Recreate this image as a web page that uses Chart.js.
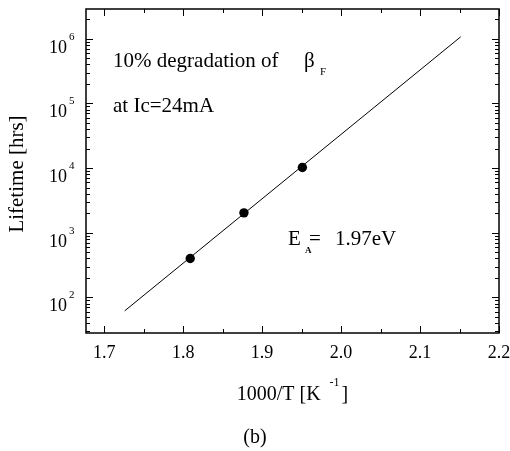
<!DOCTYPE html>
<html>
<head>
<meta charset="utf-8">
<script src="https://cdn.jsdelivr.net/npm/chart.js@4"></script>
<style>
  body { margin: 0; background: #fff; }
</style>
</head>
<body>
<canvas id="lifetime" width="510" height="451"></canvas>
<script>
// measured points, 1000/T vs lifetime (hrs)
const invT = [1.809, 1.877, 1.951];
const lifetime = [400, 2030, 10200];

// Arrhenius fit, end points of the drawn line
const fitT = [1.726, 2.1515];
const fitLife = [62, 1.07e6];

// axis ticks
const xLabels = [1.7, 1.8, 1.9, 2.0, 2.1, 2.2];
const xMinor = [1.75, 1.85, 1.95, 2.05, 2.15];
const yDecades = [2, 3, 4, 5, 6];

const serif = '"Liberation Serif", "Times New Roman", serif';

// ..................frame, ticks and texts....................
const framePlugin = {
    id: 'frame',
    afterDraw(chart) {
        const c = chart.ctx;
        const a = chart.chartArea;
        const xs = chart.scales.x;
        const ys = chart.scales.y;
        c.save();
        c.strokeStyle = '#000';
        c.fillStyle = '#000';

        c.lineWidth = 1.5;
        c.strokeRect(a.left, a.top, a.right - a.left, a.bottom - a.top);

        c.lineWidth = 1;
        c.beginPath();
        const xTick = (v, len) => {
            const px = Math.round(xs.getPixelForValue(v)) + 0.5;
            c.moveTo(px, a.bottom); c.lineTo(px, a.bottom - len);
            c.moveTo(px, a.top); c.lineTo(px, a.top + len);
        };
        const yTick = (v, len) => {
            const py = Math.round(ys.getPixelForValue(v)) + 0.5;
            if (py < a.top || py > a.bottom) return;
            c.moveTo(a.left, py); c.lineTo(a.left + len, py);
            c.moveTo(a.right, py); c.lineTo(a.right - len, py);
        };
        xLabels.forEach(v => xTick(v, 7));
        xMinor.forEach(v => xTick(v, 4));
        for (let d = 1; d <= 6; d++) {
            for (let i = 2; i <= 9; i++) yTick(i * Math.pow(10, d), 4);
        }
        yDecades.forEach(d => yTick(Math.pow(10, d), 7));
        c.stroke();

        // x tick labels
        c.font = '18px ' + serif;
        c.textAlign = 'center';
        c.textBaseline = 'alphabetic';
        xLabels.forEach(v => {
            c.fillText(v.toFixed(1), xs.getPixelForValue(v), a.bottom + 25);
        });

        // y tick labels 10^n
        yDecades.forEach(d => {
            const py = ys.getPixelForValue(Math.pow(10, d));
            c.font = '18px ' + serif;
            c.textAlign = 'right';
            c.fillText('10', a.left - 19, py + 14);
            c.font = '11px ' + serif;
            c.textAlign = 'left';
            c.fillText(String(d), a.left - 17, py + 1);
        });

        // y title
        c.save();
        c.translate(23, (a.top + a.bottom) / 2 + 3);
        c.rotate(-Math.PI / 2);
        c.font = '21px ' + serif;
        c.textAlign = 'center';
        c.fillText('Lifetime [hrs]', 0, 0);
        c.restore();

        // x title 1000/T [K^-1]
        c.textAlign = 'left';
        c.font = '20px ' + serif;
        const main = '1000/T [K';
        const wMain = c.measureText(main).width;
        c.font = '12px ' + serif;
        const wSup = c.measureText('-1').width;
        c.font = '20px ' + serif;
        const wEnd = c.measureText(']').width;
        let tx = (a.left + a.right) / 2 - (wMain + 9 + wSup + 2 + wEnd) / 2;
        c.fillText(main, tx, 400);
        tx += wMain + 9;
        c.font = '12px ' + serif;
        c.fillText('-1', tx, 386);
        tx += wSup + 2;
        c.font = '20px ' + serif;
        c.fillText(']', tx, 400);

        // (b)
        c.textAlign = 'center';
        c.fillText('(b)', chart.width / 2, 443);

        // annotations
        c.textAlign = 'left';
        c.font = '21px ' + serif;
        c.fillText('10% degradation of', 113, 67);
        c.fillText('at Ic=24mA', 113, 112);
        c.fillText('\u03B2', 304, 67);
        c.font = '11px ' + serif;
        c.fillText('F', 320, 75);

        c.font = '21px ' + serif;
        c.fillText('E', 288, 245);
        c.fillText('=', 309, 245);
        c.fillText('1.97eV', 335, 245);
        c.font = 'bold 9px ' + serif;
        c.fillText('A', 305, 253);
        c.restore();
    }
};

const ctx = document.getElementById('lifetime').getContext('2d');
const chart = new Chart(ctx, {
    type: 'scatter',
    data: {
        datasets: [{
            label: 'Lifetime',
            data: invT.map((t, i) => ({ x: t, y: lifetime[i] })),
            backgroundColor: '#000',
            borderWidth: 0,
            pointRadius: 4.7
        }, {
            label: 'Fit',
            data: fitT.map((t, i) => ({ x: t, y: fitLife[i] })),
            showLine: true,
            borderColor: '#000',
            borderWidth: 1,
            pointRadius: 0
        }]
    },
    options: {
        responsive: false,
        animation: false,
        layout: {
            padding: { left: 86, right: 11, top: 9, bottom: 118 }
        },
        plugins: {
            legend: { display: false },
            tooltip: { enabled: false }
        },
        scales: {
            x: { type: 'linear', min: 1.677, max: 2.2, display: false },
            y: { type: 'logarithmic', min: 28.2, max: 2.88e6, display: false }
        }
    },
    plugins: [framePlugin]
});
</script>
</body>
</html>
